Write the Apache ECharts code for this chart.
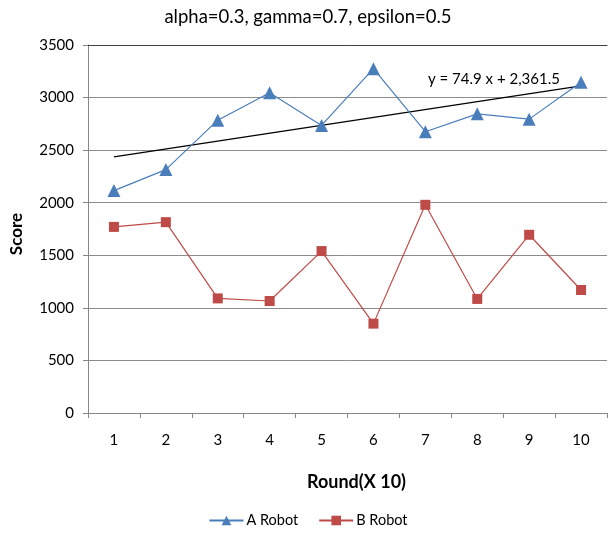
<!DOCTYPE html>
<html>
<head>
<meta charset="utf-8">
<script src="https://cdn.jsdelivr.net/npm/echarts@6/dist/echarts.min.js"></script>
<style>
  html, body { margin: 0; padding: 0; background: #fff; }
  #chart { width: 616px; height: 536px; }
</style>
</head>
<body>
<div id="chart"></div>
<script>
// Rounds (in units of 10) and the scores of both robots
const rounds = ['1', '2', '3', '4', '5', '6', '7', '8', '9', '10'];
const robotA = [2115, 2315, 2785, 3045, 2735, 3275, 2675, 2845, 2795, 3145];
const robotB = [1770, 1815, 1090, 1065, 1540, 850, 1980, 1085, 1695, 1170];

// Linear trend fitted to A Robot
const trendSlope = 74.9;
const trendIntercept = 2361.5;
const trendLabel = 'y = 74.9 x + 2,361.5';

const yTicks = [0, 500, 1000, 1500, 2000, 2500, 3000, 3500];

const FONT = 'Lato, "Open Sans", sans-serif';

// Trend line runs from the first round to the last round
const trendData = [
  [0, trendSlope * 1 + trendIntercept],
  [rounds.length - 1, trendSlope * rounds.length + trendIntercept]
];

const chart = echarts.init(document.getElementById('chart'), null, { renderer: 'canvas' });

chart.setOption({
  animation: false,
  backgroundColor: '#ffffff',
  title: {
    text: 'alpha=0.3, gamma=0.7, epsilon=0.5',
    left: 'center',
    top: 3,
    textStyle: { fontFamily: FONT, fontSize: 18.5, fontWeight: 'normal', color: '#000' }
  },
  legend: {
    bottom: 3,
    left: 'center',
    itemWidth: 34,
    itemHeight: 12,
    itemGap: 20,
    data: ['A Robot', 'B Robot'],
    textStyle: { fontFamily: FONT, fontSize: 14.5, color: '#000', padding: [0, 0, 0, -2] }
  },
  grid: { left: 87, right: 9, top: 45, bottom: 123 },
  xAxis: [{
    type: 'category',
    data: rounds,
    boundaryGap: true,
    name: 'Round(X 10)',
    nameLocation: 'middle',
    nameGap: 60,
    nameTextStyle: {
      fontFamily: FONT, fontSize: 18, fontWeight: 'bold', color: '#000',
      padding: [0, 0, 0, 18]
    },
    axisLine: { lineStyle: { color: '#868686', width: 1 } },
    axisTick: { show: true, length: 5, alignWithLabel: false, lineStyle: { color: '#868686' } },
    axisLabel: { fontFamily: FONT, fontSize: 15, color: '#000', margin: 20 },
    splitLine: { show: false }
  }, {
    type: 'category',
    data: rounds,
    position: 'top',
    axisLine: { lineStyle: { color: '#404040', width: 1 } },
    axisTick: { show: false },
    axisLabel: { show: false }
  }],
  yAxis: {
    type: 'value',
    min: yTicks[0],
    max: yTicks[yTicks.length - 1],
    interval: 500,
    name: 'Score',
    nameLocation: 'middle',
    nameGap: 63,
    nameTextStyle: {
      fontFamily: FONT, fontSize: 17, fontWeight: 'bold', color: '#000',
      padding: [0, 0, 0, -10]
    },
    axisLine: { show: true, lineStyle: { color: '#868686', width: 1 } },
    axisTick: { show: true, length: 5, lineStyle: { color: '#868686' } },
    axisLabel: {
      fontFamily: FONT, fontSize: 15, color: '#000', margin: 14,
      formatter: (v) => String(v)
    },
    splitLine: { show: true, lineStyle: { color: '#8c8c8c', width: 1 } }
  },
  series: [
    {
      name: 'A Robot',
      type: 'line',
      data: robotA,
      symbol: 'triangle',
      symbolSize: 13,
      color: '#4A7EBB',
      lineStyle: { color: '#4A7EBB', width: 1.2 },
      itemStyle: { color: '#4A7EBB' },
      z: 3
    },
    {
      name: 'B Robot',
      type: 'line',
      data: robotB,
      symbol: 'rect',
      symbolSize: 10,
      color: '#BE4B48',
      lineStyle: { color: '#BE4B48', width: 1.2 },
      itemStyle: { color: '#BE4B48' },
      z: 3
    },
    {
      name: 'trend',
      type: 'line',
      data: trendData,
      symbol: 'none',
      silent: true,
      lineStyle: { color: '#000', width: 1.3 },
      z: 2
    }
  ],
  graphic: [{
    type: 'text',
    left: 428,
    top: 72,
    style: {
      text: trendLabel,
      font: '15px ' + FONT,
      fill: '#000'
    }
  }]
});
</script>
</body>
</html>
